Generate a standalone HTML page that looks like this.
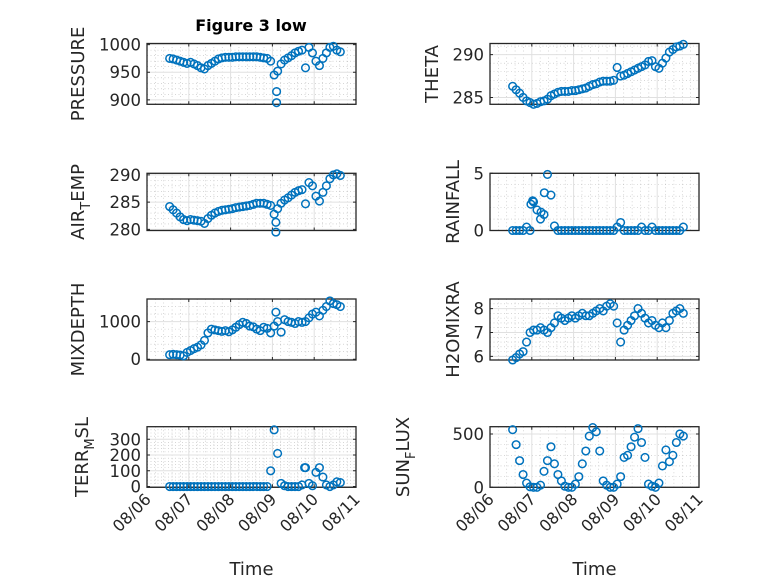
<!DOCTYPE html>
<html><head><meta charset="utf-8"><style>
body{margin:0;background:#fff}
svg{display:block;font-family:"DejaVu Sans","Liberation Sans",sans-serif}
</style></head><body>
<svg id="fig" width="778" height="583" viewBox="0 0 778 583" xmlns="http://www.w3.org/2000/svg">
<rect width="778" height="583" fill="#fff"/>
<text x="251" y="31" text-anchor="middle" font-size="16" font-weight="bold" fill="#000">Figure 3 low</text>
</svg>
<script>
const T = [13,15,17,19,21,23,25,27,29,31,33,35,37,39,41,43,45,47,49,51,53,55,57,59,61,63,65,67,69,71,73,75,77,79,81,83,85,87,89,91,93,95,97,99,101,103,105,107,109,111];
const xTickLabels = ["08/06","08/07","08/08","08/09","08/10","08/11"];
const pressureV = [975,974,972,970,968,966,968,965,962,958,956,962,966,970,974,976,977,977,977,978,978,978,978,978,978,978,977,976,975,970,945,952,965,972,976,980,985,988,990,958,995,985,970,962,975,985,995,997,990,987];
const pressureExtraT = [74.4,74.4];
const pressureExtraV = [915,895];
const airTempV = [284.2,283.6,283,282.3,281.8,281.6,281.8,281.7,281.6,281.5,281.1,282,282.6,283,283.3,283.5,283.6,283.7,283.8,284,284.1,284.2,284.3,284.4,284.6,284.8,284.8,284.8,284.6,284.4,282.8,283.8,284.8,285.4,285.8,286.3,286.8,287.1,287.3,284.7,288.6,288,286.1,285.2,286.8,288,289.3,290,290.2,289.9];
const airTempExtraT = [74,74];
const airTempExtraV = [281.3,279.5];
const mixDepthV = [120,130,120,110,90,180,230,280,320,380,500,700,800,780,760,740,760,730,780,850,920,980,950,880,860,800,760,850,820,700,880,1000,720,1050,1000,980,950,1000,980,1000,1100,1200,1250,1150,1300,1400,1550,1480,1450,1400];
const mixDepthExtraT = [74];
const mixDepthExtraV = [1250];
const terrV = [0,0,0,0,0,0,0,0,0,0,0,0,0,0,0,0,0,0,0,0,0,0,0,0,0,0,0,0,0,100,360,210,20,5,0,0,0,0,10,120,20,5,90,120,60,10,0,10,30,25];
const terrExtraT = [90.5];
const terrExtraV = [120];
const thetaV = [286.3,285.9,285.5,285,284.6,284.4,284.2,284.3,284.5,284.6,284.8,285.2,285.4,285.6,285.7,285.7,285.7,285.8,285.8,285.9,286,286.1,286.3,286.5,286.6,286.8,286.9,286.9,286.9,287,288.5,287.5,287.6,287.8,288,288.2,288.4,288.6,288.8,289.2,289.3,288.6,288.4,289,289.6,290.3,290.6,290.9,291,291.2];
const rainV = [0,0,0,0,0.3,0,2.5,1.8,1.0,1.4,4.9,3.1,0.4,0,0,0,0,0,0,0,0,0,0,0,0,0,0,0,0,0,0.3,0.7,0,0,0,0,0,0.3,0,0,0.3,0,0,0,0,0,0,0,0,0.3];
const rainExtraT = [23.5,24.5,29.3,31.2];
const rainExtraV = [2.3,2.6,1.6,3.3];
const h2oV = [5.85,5.95,6.1,6.2,6.6,7.0,7.1,7.1,7.2,7.1,7.0,7.2,7.4,7.7,7.6,7.5,7.6,7.7,7.6,7.7,7.8,7.7,7.7,7.8,7.9,8.0,7.9,8.1,8.2,8.1,7.4,6.6,7.1,7.3,7.5,7.7,8.0,7.8,7.6,7.4,7.5,7.3,7.2,7.4,7.2,7.5,7.8,7.9,8.0,7.8];
const sunV = [540,400,250,120,40,5,0,0,20,150,250,380,220,120,60,10,0,0,30,100,220,340,480,560,520,340,60,20,0,0,30,100,280,300,380,470,550,420,280,30,10,0,40,200,350,240,300,420,500,480];

const NS = "http://www.w3.org/2000/svg";
const svg = document.getElementById('fig');
function mk(tag, attrs, parent){const e=document.createElementNS(NS,tag);for(const k in attrs)e.setAttribute(k,attrs[k]);(parent||svg).appendChild(e);return e;}

const cols=[{x0:147,x1:356},{x0:490,x1:699}];
const rows=[{y0:43.5,y1:104.3},{y0:173.3,y1:230.5},{y0:299,y1:360},{y0:426.7,y1:487.3}];

function panel(name,col,row,ymin,ymax,yticks,ymaj,yminStep,vals,exT,exV,label,labelX,bottom){
  const c=cols[col], r=rows[row];
  const g=mk('g',{});
  
  
  const xs=h=>c.x0+(h/24)/5*(c.x1-c.x0);
  const ys=v=>r.y1-(v-ymin)/(ymax-ymin)*(r.y1-r.y0);
  for(let d=0;d<5;d++)for(let k=1;k<5;k++){const x=xs((d+k/5)*24);
    const l=mk('line',{x1:x,x2:x,y1:r.y0,y2:r.y1,stroke:'#bdbdbd','stroke-width':0.6,'stroke-dasharray':'1 2.5'},g);
    }
  const startM=Math.ceil(ymin/yminStep)*yminStep;
  for(let v=startM;v<=ymax+1e-9;v+=yminStep){ if(Math.abs(v/ymaj-Math.round(v/ymaj))<1e-6)continue; const y=ys(v);
    const l=mk('line',{x1:c.x0,x2:c.x1,y1:y,y2:y,stroke:'#bdbdbd','stroke-width':0.6,'stroke-dasharray':'1 2.5'},g);
    }
  for(let d=1;d<5;d++){const x=xs(d*24);
    const l=mk('line',{x1:x,x2:x,y1:r.y0,y2:r.y1,stroke:'#e0e0e0','stroke-width':1},g);
    }
  yticks.forEach(v=>{const y=ys(v);
    const l=mk('line',{x1:c.x0,x2:c.x1,y1:y,y2:y,stroke:'#e0e0e0','stroke-width':1},g);
    
    const tk=mk('path',{d:`M${c.x0} ${y}h3M${c.x1} ${y}h-3`,stroke:'#262626','stroke-width':1},g);
    
    const t=mk('text',{x:c.x0-6,y:y+6,'text-anchor':'end','font-size':16.5,fill:'#262626'},g);
    t.textContent=String(v);
    });
  for(let d=0;d<=5;d++){const x=xs(d*24);
    const tk=mk('path',{d:`M${x} ${r.y1}v-3M${x} ${r.y0}v3`,stroke:'#262626','stroke-width':1},g);
    
    if(bottom){const t=mk('text',{x:x+5,y:r.y1+13,'text-anchor':'end','font-size':16,fill:'#262626',transform:`rotate(-45 ${x+5} ${r.y1+13})`},g);
      t.textContent=xTickLabels[d];
      }}
  const box=mk('rect',{x:c.x0,y:r.y0,width:c.x1-c.x0,height:r.y1-r.y0,fill:'none',stroke:'#262626','stroke-width':1.3},g);
  
  const cg=mk('g',{fill:'none',stroke:'#0072BD','stroke-width':1.5},g);
  
  vals.forEach((v,i)=>{const p=mk('circle',{cx:xs(T[i]),cy:ys(v),r:3.8},cg);
    });
  exT.forEach((h,i)=>{const p=mk('circle',{cx:xs(h),cy:ys(exV[i]),r:3.8},cg);
    });
  const cy=(r.y0+r.y1)/2;
  const lt=mk('text',{x:labelX,y:cy,'text-anchor':'middle','font-size':18,fill:'#262626',transform:`rotate(-90 ${labelX} ${cy})`},g);
  lt.innerHTML=label;
  
  if(bottom){const tt=mk('text',{x:(c.x0+c.x1)/2,y:575,'text-anchor':'middle','font-size':18,fill:'#262626'},g);
    tt.textContent='Time';
    }
}
const sub=(a,b,c)=>`${a}<tspan dy="6" font-size="13">${b}</tspan><tspan dy="-6">${c}</tspan>`;
panel('pressure',0,0,892,1002,[900,950,1000],50,10,pressureV,pressureExtraT,pressureExtraV,'PRESSURE',84,false);
panel('air-temp',0,1,279.8,290.3,[280,285,290],5,1,airTempV,airTempExtraT,airTempExtraV,sub('AIR','T','EMP'),84,false);
panel('mixdepth',0,2,-20,1600,[0,1000],1000,200,mixDepthV,mixDepthExtraT,mixDepthExtraV,'MIXDEPTH',84,false);
panel('terr-msl',0,3,-5,380,[0,100,200,300],100,20,terrV,terrExtraT,terrExtraV,sub('TERR','M','SL'),88,true);
panel('theta',1,0,284.2,291.3,[285,290],5,1,thetaV,[],[],'THETA',438,false);
panel('rainfall',1,1,0,5,[0,5],5,1,rainV,rainExtraT,rainExtraV,'RAINFALL',459,false);
panel('h2omixra',1,2,5.85,8.4,[6,7,8],1,0.2,h2oV,[],[],'H2OMIXRA',459,false);
panel('sun-flux',1,3,0,568,[0,500],500,100,sunV,[],[],sub('SUN','F','LUX'),409,true);
</script>
</body></html>
